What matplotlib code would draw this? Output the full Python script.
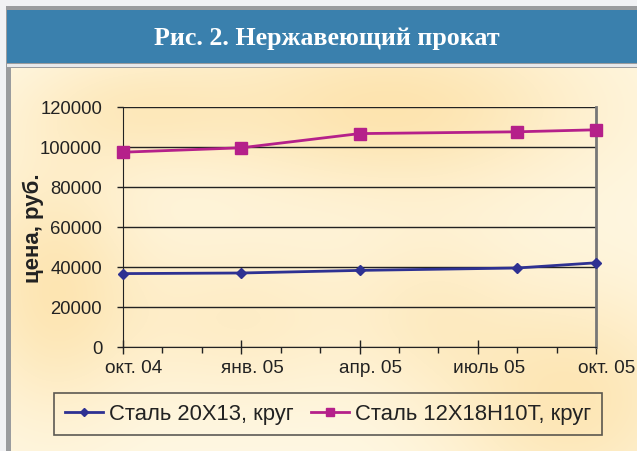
import numpy as np
import matplotlib.pyplot as plt
import matplotlib.transforms as mtransforms
from matplotlib.patches import Rectangle

plt.rcParams['font.family'] = ['Liberation Sans', 'DejaVu Sans']

# months from Oct 2004
months = [0, 3, 6, 10, 12]
steel_20x13 = [36700, 37000, 38300, 39500, 42100]
steel_12x18 = [97400, 99600, 106700, 107600, 108600]
series_names = ['Сталь 20Х13, круг', 'Сталь 12Х18Н10Т, круг']
tick_pos = [0, 3, 6, 9, 12]
tick_labels = ['окт. 04', 'янв. 05', 'апр. 05', 'июль 05', 'окт. 05']

W, H = 637, 452
fig = plt.figure(figsize=(W / 100, H / 100), dpi=100)
fig.patch.set_facecolor('#f1f2f4')


def fx(px):
    return px / W


def fy(py):
    return 1 - py / H


# frame and title banner
fig.patches.append(Rectangle((fx(6), fy(452)), fx(637 - 6), fy(7) - fy(452),
                             transform=fig.transFigure, facecolor='#9a9c9e', edgecolor='none', zorder=-2))
fig.patches.append(Rectangle((fx(7), fy(64)), fx(637 - 7), fy(11) - fy(64),
                             transform=fig.transFigure, facecolor='#3a80ad', edgecolor='none', zorder=-1))
fig.patches.append(Rectangle((fx(7), fy(68)), fx(637 - 7), fy(65) - fy(68),
                             transform=fig.transFigure, facecolor='#e8e9eb', edgecolor='none', zorder=-1))

# gradient body
bg = fig.add_axes([fx(11), 0, 1 - fx(11), fy(69)], zorder=0)
yy, xx = np.mgrid[0:383, 0:626]
img = np.zeros(xx.shape)
for cx, cy, sx, sy, a in [(380, 40, 140, 60, 0.9), (560, 330, 90, 80, 0.8),
                          (40, 220, 60, 90, 0.8), (230, 250, 90, 60, 0.5),
                          (120, 40, 80, 40, 0.5), (420, 240, 60, 60, 0.4)]:
    img += a * np.exp(-((xx - cx) ** 2 / (2 * sx ** 2) + (yy - cy) ** 2 / (2 * sy ** 2)))
img = np.clip(img, 0, 1)
c0 = np.array([255, 248, 228]) / 255
c1 = np.array([253, 226, 170]) / 255
rgb = c0[None, None, :] * (1 - img[..., None]) + c1[None, None, :] * img[..., None]
bg.imshow(rgb, aspect='auto', interpolation='bilinear')
bg.axis('off')

fig.text(fx(327), fy(38), 'Рис. 2. Нержавеющий прокат', color='white',
         fontsize=18.7, fontweight='bold', family='Liberation Serif',
         ha='center', va='center')

ax = fig.add_axes([fx(123), fy(348), fx(596 - 123), fy(108) - fy(348)], zorder=2)
ax.patch.set_alpha(0)

ax.plot(months, steel_20x13, color='#2e3192', lw=2, marker='D', ms=5.5,
        label=series_names[0], zorder=4, clip_on=False)
ax.plot(months, steel_12x18, color='#b5208a', lw=2, marker='s', ms=8,
        label=series_names[1], zorder=4, clip_on=False)

ax.set_xlim(0, 12)
ax.set_ylim(0, 120000)
ax.set_yticks(range(0, 120001, 20000))
ax.set_yticklabels([str(v) for v in range(0, 120001, 20000)])
ax.set_xticks(tick_pos)
ax.set_xticklabels(tick_labels)
ax.set_xticks(range(13), minor=True)
ax.grid(axis='y', color='#222222', lw=1)
ax.set_axisbelow(True)

ax.spines['top'].set_visible(False)
ax.spines['right'].set_color('#777777')
ax.spines['right'].set_linewidth(2)
ax.spines['left'].set_color('#222222')
ax.spines['bottom'].set_color('#222222')

ax.tick_params(axis='y', length=4, width=1, pad=11, labelsize=13.3, colors='#222222')
ax.tick_params(axis='x', which='major', direction='inout', length=10, width=1,
               pad=4, labelsize=13.7, colors='#222222')
ax.tick_params(axis='x', which='minor', direction='out', length=4, width=1, colors='#222222')

offset = mtransforms.ScaledTranslation(11 / 100, 0, fig.dpi_scale_trans)
for lab in ax.get_xticklabels():
    lab.set_transform(lab.get_transform() + offset)

fig.text(fx(33), fy(228), 'цена, руб.', rotation=90, fontsize=16,
         fontweight='bold', color='#222222', ha='center', va='center')

leg = fig.legend(loc='center', bbox_to_anchor=(fx(328), fy(415)), ncol=2,
                 fontsize=15.8, frameon=True, fancybox=False, handlelength=1.75,
                 handletextpad=0.25, columnspacing=0.8, borderpad=0.5,
                 borderaxespad=0, markerscale=0.8)
leg.get_frame().set_edgecolor('#333333')
leg.get_frame().set_facecolor('none')
leg.get_frame().set_linewidth(1.2)
for t in leg.get_texts():
    t.set_color('#222222')

fig.savefig('out.png', dpi=100, facecolor=fig.get_facecolor())
